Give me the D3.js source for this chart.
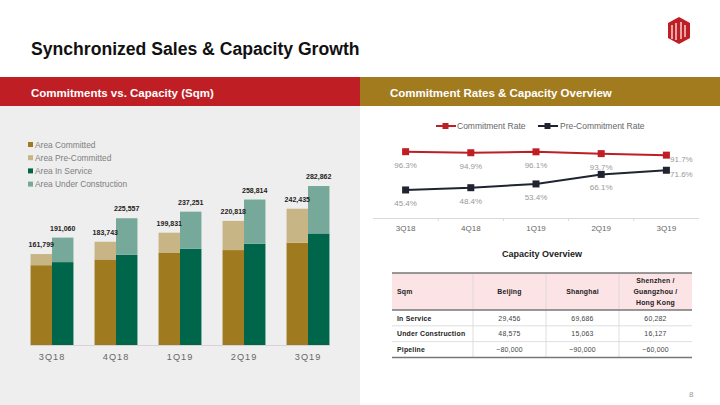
<!DOCTYPE html>
<html><head><meta charset="utf-8">
<script src="https://cdn.jsdelivr.net/npm/d3@7/dist/d3.min.js"></script>
<style>
body{margin:0;background:#fff;}
svg{display:block;font-family:"Liberation Sans",Arial,sans-serif;}
</style></head><body>
<svg id="c" width="720" height="405"></svg>
<script>
// ---- data ----
const quarters = ["3Q18","4Q18","1Q19","2Q19","3Q19"];
const committed = [142000,152200,164600,168900,182000];
const preCommitted = [19799,31543,35231,51918,60435];
const inService = [147500,160400,171300,180200,198500];
const underConstruction = [43560,65157,65951,78614,84362];
const commitmentRate = [96.3,94.9,96.1,93.7,91.7];
const preCommitmentRate = [45.4,48.4,53.4,66.1,71.6];
const tableHeader = ["Sqm","Beijing","Shanghai","Shenzhen / Guangzhou / Hong Kong"];
const tableRows = [
  ["In Service","29,456","69,686","60,282"],
  ["Under Construction","48,575","15,063","16,127"],
  ["Pipeline","~80,000","~90,000","~60,000"]
];
const legendLeft = ["Area Committed","Area Pre-Committed","Area In Service","Area Under Construction"];

const C = {committed:"#A07A1F", pre:"#C8B586", service:"#00664B", uc:"#76A99A",
  red:"#BE1E24", gold:"#A27B1F", navy:"#1F2430", grey:"#EEEEEE"};

const svg = d3.select("#c");
const fmt = d3.format(",");

// ---- page frame ----
svg.append("rect").attr("x",0).attr("y",106).attr("width",360).attr("height",299).attr("fill",C.grey);
svg.append("rect").attr("x",0).attr("y",77).attr("width",360).attr("height",29).attr("fill",C.red);
svg.append("rect").attr("x",360).attr("y",77).attr("width",360).attr("height",29).attr("fill",C.gold);
svg.append("text").attr("x",31).attr("y",55).attr("font-size",17.6).attr("font-weight","bold").attr("fill","#111")
  .text("Synchronized Sales & Capacity Growth");
svg.append("text").attr("x",31).attr("y",97).attr("font-size",11.5).attr("font-weight","bold").attr("fill","#fff")
  .text("Commitments vs. Capacity (Sqm)");
svg.append("text").attr("x",390).attr("y",97).attr("font-size",11.5).attr("font-weight","bold").attr("fill","#fff")
  .text("Commitment Rates & Capacity Overview");
svg.append("text").attr("x",689).attr("y",397).attr("font-size",8).attr("fill","#999").text("8");

// logo
const lg = svg.append("g").attr("transform","translate(668,17)");
lg.append("path").attr("d","M11,0 L22,6 L22,21 L11,27 L0,21 L0,6 Z").attr("fill",C.red);
[[4,8,4,22],[8,6,8,23],[13,5,13,22],[17,8,17,20]].forEach(l=>
  lg.append("line").attr("x1",l[0]).attr("y1",l[1]).attr("x2",l[2]).attr("y2",l[3]).attr("stroke","#fff").attr("stroke-width",1.2));

// ---- left bar chart ----
const x0 = d3.scaleBand().domain(quarters).range([20,340]).paddingInner(0.33).paddingOuter(0.165);
const x1 = d3.scaleBand().domain(["a","b"]).range([0,x0.bandwidth()]);
const y = d3.scaleLinear().domain([0,300000]).range([345,176.4]);

const leg = svg.append("g");
const legCols = [C.committed,C.pre,C.service,C.uc];
legendLeft.forEach((t,i)=>{
  const yy = 146 + i*13.2;
  leg.append("rect").attr("x",28).attr("y",yy-4).attr("width",5).attr("height",5).attr("fill",legCols[i]);
  leg.append("text").attr("x",35).attr("y",yy+1.5).attr("font-size",8.4).attr("fill","#808080").text(t);
});

const g = svg.append("g");
quarters.forEach((q,i)=>{
  const xa = x0(q)+x1("a"), xb = x0(q)+x1("b"), w = x1.bandwidth();
  g.append("rect").attr("x",xa).attr("width",w).attr("y",y(committed[i])).attr("height",y(0)-y(committed[i])).attr("fill",C.committed);
  g.append("rect").attr("x",xa).attr("width",w).attr("y",y(committed[i]+preCommitted[i])).attr("height",y(committed[i])-y(committed[i]+preCommitted[i])).attr("fill",C.pre);
  g.append("rect").attr("x",xb).attr("width",w).attr("y",y(inService[i])).attr("height",y(0)-y(inService[i])).attr("fill",C.service);
  g.append("rect").attr("x",xb).attr("width",w).attr("y",y(inService[i]+underConstruction[i])).attr("height",y(inService[i])-y(inService[i]+underConstruction[i])).attr("fill",C.uc);
  g.append("text").attr("x",xa+w/2).attr("y",y(committed[i]+preCommitted[i])-7).attr("text-anchor","middle")
    .attr("font-size",7).attr("font-weight","bold").attr("fill","#222").text(fmt(committed[i]+preCommitted[i]));
  g.append("text").attr("x",xb+w/2).attr("y",y(inService[i]+underConstruction[i])-7).attr("text-anchor","middle")
    .attr("font-size",7).attr("font-weight","bold").attr("fill","#222").text(fmt(inService[i]+underConstruction[i]));
});
const xAxis = svg.append("g").attr("transform","translate(0,345)")
  .call(d3.axisBottom(x0).tickSize(0).tickPadding(8));
xAxis.select(".domain").attr("d","M30,0.5H330").attr("stroke","#d4d4d4").attr("stroke-width",1.2);
xAxis.selectAll("text").attr("font-size",9.2).attr("fill","#666").attr("letter-spacing",1)
  .attr("font-family","Liberation Sans, Arial, sans-serif");

// ---- right line chart ----
const xr = d3.scaleBand().domain(quarters).range([373,699]);
const yr = d3.scaleLinear().domain([0,100]).range([224.1,148.9]);
const cx = q=>xr(q)+xr.bandwidth()/2;

const ax = svg.append("g").attr("transform","translate(0,218)")
  .call(d3.axisBottom(xr).tickSize(0).tickPadding(7));
ax.select(".domain").attr("d","M373,0.5H699").attr("stroke","#d9d9d9").attr("stroke-width",1);
ax.selectAll("text").attr("font-size",8).attr("fill","#666").attr("font-family","Liberation Sans, Arial, sans-serif");
xr.domain().slice(1).forEach(q=>ax.append("line").attr("x1",xr(q)).attr("x2",xr(q)).attr("y1",0).attr("y2",3).attr("stroke","#d9d9d9"));

const series = [
  {name:"Commitment Rate", vals:commitmentRate, col:C.red},
  {name:"Pre-Commitment Rate", vals:preCommitmentRate, col:C.navy}
];
const line = d3.line().x((d,i)=>cx(quarters[i])).y(d=>yr(d));
series.forEach(s=>{
  svg.append("path").datum(s.vals).attr("d",line).attr("fill","none").attr("stroke",s.col).attr("stroke-width",2);
  s.vals.forEach((v,i)=>{
    svg.append("rect").attr("x",cx(quarters[i])-3.5).attr("y",yr(v)-3.5).attr("width",7).attr("height",7).attr("fill",s.col);
    const last = i===quarters.length-1;
    svg.append("text").attr("x",cx(quarters[i])+(last?15:0)).attr("y",yr(v)+(last?6.5:16))
      .attr("text-anchor","middle").attr("font-size",8).attr("fill","#999").text(v.toFixed(1)+"%");
  });
});
// legend
const rl = svg.append("g");
[[436,457,series[0]],[538,560,series[1]]].forEach(([lx,tx,s])=>{
  rl.append("line").attr("x1",lx).attr("x2",lx+20).attr("y1",126).attr("y2",126).attr("stroke",s.col).attr("stroke-width",2);
  rl.append("rect").attr("x",lx+6.5).attr("y",123).attr("width",6).attr("height",6).attr("fill",s.col);
  rl.append("text").attr("x",tx).attr("y",129).attr("font-size",8.5).attr("fill","#666").text(s.name);
});

// ---- table ----
svg.append("text").attr("x",542).attr("y",257).attr("text-anchor","middle").attr("font-size",9).attr("font-weight","bold").attr("fill","#222").text("Capacity Overview");
const colX = [392,473,546,619,692];
const tTop = 273, hBot = 310, rowH = 15.8;
const tb = svg.append("g");
tb.append("rect").attr("x",colX[0]).attr("y",tTop).attr("width",colX[4]-colX[0]).attr("height",hBot-tTop).attr("fill","#FCE4E6");
for(let k=1;k<4;k++) tb.append("line").attr("x1",colX[k]).attr("x2",colX[k]).attr("y1",tTop).attr("y2",hBot+rowH*3).attr("stroke","#d6d6d6").attr("stroke-width",0.8);
for(let r=1;r<3;r++) tb.append("line").attr("x1",colX[0]).attr("x2",colX[4]).attr("y1",hBot+rowH*r).attr("y2",hBot+rowH*r).attr("stroke","#d6d6d6").attr("stroke-width",0.8);
[tTop,hBot,hBot+rowH*3].forEach(yy=>tb.append("line").attr("x1",colX[0]).attr("x2",colX[4]).attr("y1",yy).attr("y2",yy).attr("stroke","#777").attr("stroke-width",1.5));
tableHeader.forEach((h,k)=>{
  const mid = k===0 ? colX[0]+5 : (colX[k]+colX[k+1])/2;
  const anchor = k===0 ? "start" : "middle";
  const lines = k===3 ? ["Shenzhen /","Guangzhou /","Hong Kong"] : [h];
  const y0 = (tTop+hBot)/2 + 2.5 - (lines.length-1)*11/2;
  lines.forEach((t,j)=>tb.append("text").attr("x",mid).attr("y",y0+j*11).attr("text-anchor",anchor)
    .attr("font-size",6.9).attr("font-weight","bold").attr("fill","#222").attr("letter-spacing",0.2).text(t));
});
tableRows.forEach((row,r)=>{
  const yy = hBot + rowH*r + rowH/2 + 2.6;
  row.forEach((v,k)=>{
    const mid = k===0 ? colX[0]+5 : (colX[k]+colX[k+1])/2;
    tb.append("text").attr("x",mid).attr("y",yy).attr("text-anchor",k===0?"start":"middle")
      .attr("font-size",6.9).attr("font-weight",k===0?"bold":"normal").attr("fill",k===0?"#222":"#444").attr("letter-spacing",0.2).text(v);
  });
});
</script>
</body></html>
